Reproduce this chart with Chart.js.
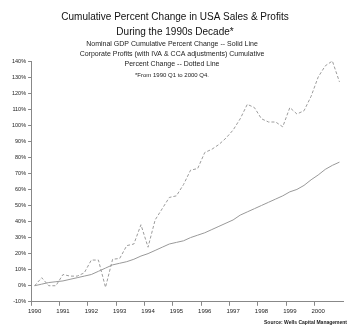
<!DOCTYPE html>
<html>
<head>
<meta charset="utf-8">
<script src="https://cdn.jsdelivr.net/npm/chart.js@4.4.0/dist/chart.umd.min.js"></script>
<style>
  body { margin: 0; background: #fff; }
</style>
</head>
<body>
<canvas id="salesProfits" width="350" height="327"></canvas>
<script>
var years = ['1990', '1991', '1992', '1993', '1994', '1995', '1996', '1997', '1998', '1999', '2000'];
var quarters = ['Q1', 'Q2', 'Q3', 'Q4'];

// nominal GDP, cumulative % change since 1990 Q1
var gdp = [0, 1, 2, 2.5, 3, 4, 5, 6, 7, 9, 11, 13,
  14, 15, 16.5, 18.5, 20, 22, 24, 26, 27, 28, 30, 31.5,
  33, 35, 37, 39, 41, 44, 46, 48, 50, 52, 54, 56,
  58.5, 60, 62.5, 66, 69, 72.5, 75, 77];

// corporate profits (IVA & CCA adj.), cumulative % change
var profits = [0, 5, 0, 0, 7, 6, 6, 8, 16, 16, -1, 16.5,
  17, 25, 26, 38, 24, 41, 48, 55, 56, 63, 72, 73,
  83, 85, 88, 92, 97, 104, 113, 111, 104, 102, 102, 99,
  111, 107, 109, 118, 130, 137, 140, 127];

var titleLines = ['Cumulative Percent Change in USA Sales & Profits', 'During the 1990s Decade*'];
var subtitleLines = ['Nominal GDP Cumulative Percent Change -- Solid Line',
  'Corporate Profits (with IVA & CCA adjustments) Cumulative',
  'Percent Change -- Dotted Line'];
var footnote = '*From 1990 Q1 to 2000 Q4.';
var sourceNote = 'Source: Wells Capital Management';

var labels = [];
years.forEach(function(y) {
  quarters.forEach(function(q) { labels.push(y + ' ' + q); });
});

var textPlugin = {
  id: 'chartText',
  afterDraw: function(chart) {
    var ctx = chart.ctx;
    var cx = 172;
    ctx.save();
    ctx.fillStyle = '#111';
    ctx.textAlign = 'center';
    ctx.textBaseline = 'middle';
    ctx.font = '10px "Liberation Sans", Arial, sans-serif';
    ctx.fillText(titleLines[0], 175, 17);
    ctx.fillText(titleLines[1], 175, 32);
    ctx.fillStyle = '#222';
    ctx.font = '7px "Liberation Sans", Arial, sans-serif';
    ctx.fillText(subtitleLines[0], cx, 44);
    ctx.fillText(subtitleLines[1], cx, 54);
    ctx.fillText(subtitleLines[2], cx, 64);
    ctx.font = '6px "Liberation Sans", Arial, sans-serif';
    ctx.fillText(footnote, cx, 75);
    ctx.font = 'bold 5px "Liberation Sans", Arial, sans-serif';
    ctx.textAlign = 'right';
    ctx.fillText(sourceNote, 347, 323);
    ctx.restore();
  }
};

new Chart(document.getElementById('salesProfits'), {
  type: 'line',
  data: {
    labels: labels,
    datasets: [
      {
        label: 'Nominal GDP',
        data: gdp,
        borderColor: '#999',
        borderWidth: 1,
        pointRadius: 0,
        tension: 0
      },
      {
        label: 'Corporate Profits',
        data: profits,
        borderColor: '#9c9c9c',
        borderWidth: 1,
        borderDash: [3, 2],
        pointRadius: 0,
        tension: 0
      }
    ]
  },
  options: {
    responsive: false,
    animation: false,
    devicePixelRatio: 1,
    layout: { padding: { top: 61, right: 7, left: 10, bottom: 10 } },
    plugins: {
      legend: { display: false },
      title: { display: false },
      tooltip: { enabled: false }
    },
    scales: {
      x: {
        offset: true,
        grid: {
          offset: true,
          drawOnChartArea: false,
          drawTicks: true,
          tickLength: 4,
          color: function(c) { return c.index % 4 === 0 ? '#888' : 'rgba(0,0,0,0)'; }
        },
        border: { color: '#888', width: 1 },
        ticks: {
          autoSkip: false,
          maxRotation: 0,
          padding: 2,
          color: '#222',
          font: { family: '"Liberation Sans", Arial, sans-serif', size: 6 },
          callback: function(v, i) { return i % 4 === 0 ? years[i / 4] : ''; }
        }
      },
      y: {
        min: -10,
        max: 140,
        grid: {
          drawOnChartArea: false,
          drawTicks: true,
          tickLength: 3,
          color: '#888'
        },
        border: { color: '#888', width: 1 },
        ticks: {
          stepSize: 10,
          padding: 2,
          color: '#222',
          font: { family: '"Liberation Sans", Arial, sans-serif', size: 5.5 },
          callback: function(v) { return v + '%'; }
        }
      }
    }
  },
  plugins: [textPlugin]
});
</script>
</body>
</html>
